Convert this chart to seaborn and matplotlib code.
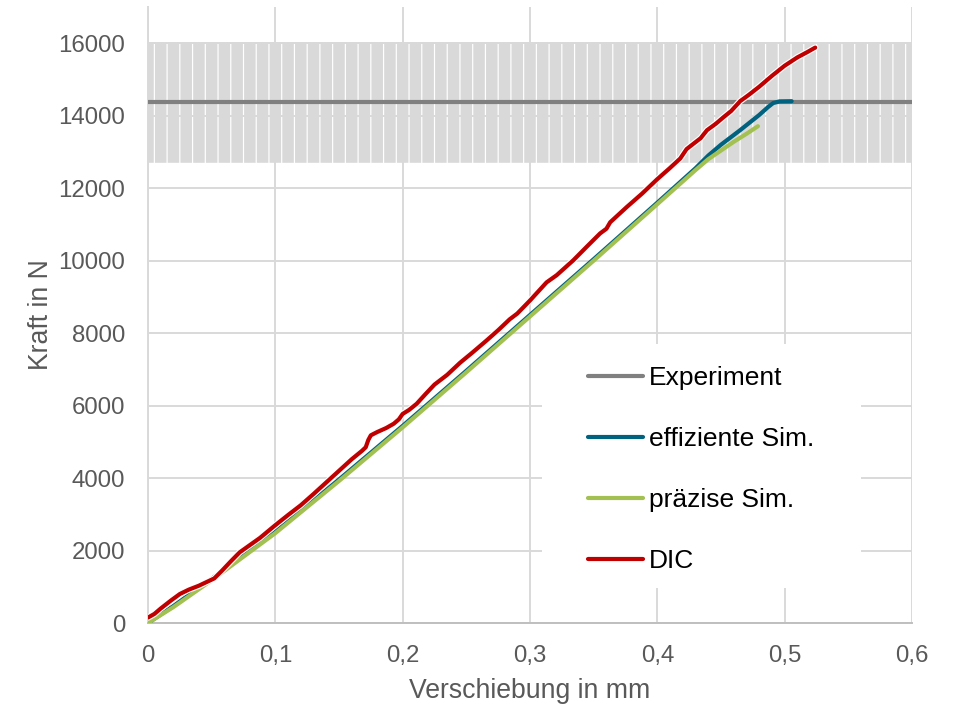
import matplotlib

matplotlib.use("Agg")
import matplotlib.patheffects as pe  # noqa: E402
import matplotlib.pyplot as plt  # noqa: E402
import pandas as pd  # noqa: E402
import seaborn as sns  # noqa: E402
from matplotlib.patches import Rectangle  # noqa: E402

# Experiment: mean force with scatter band, sampled every 0.01 mm
exp_x = [
    0.00, 0.01, 0.02, 0.03, 0.04, 0.05, 0.06, 0.07, 0.08, 0.09,
    0.10, 0.11, 0.12, 0.13, 0.14, 0.15, 0.16, 0.17, 0.18, 0.19,
    0.20, 0.21, 0.22, 0.23, 0.24, 0.25, 0.26, 0.27, 0.28, 0.29,
    0.30, 0.31, 0.32, 0.33, 0.34, 0.35, 0.36, 0.37, 0.38, 0.39,
    0.40, 0.41, 0.42, 0.43, 0.44, 0.45, 0.46, 0.47, 0.48, 0.49,
    0.50, 0.51, 0.52, 0.53, 0.54, 0.55, 0.56, 0.57, 0.58, 0.59, 0.60,
]
exp_mean = 14370
exp_err_low = 1670
exp_err_high = 1640

eff_x = [0.0, 0.02, 0.05, 0.1, 0.15, 0.2, 0.25, 0.3, 0.35, 0.4, 0.43, 0.44,
         0.45, 0.465, 0.48, 0.487, 0.491, 0.496, 0.5055]
eff_f = [0, 470, 1220, 2520, 3960, 5440, 6960, 8500, 10040, 11600, 12550, 12900,
         13200, 13600, 14020, 14240, 14350, 14395, 14400]

prec_x = [0.0, 0.02, 0.05, 0.1, 0.15, 0.2, 0.25, 0.3, 0.35, 0.4, 0.43, 0.44,
          0.45, 0.46, 0.47, 0.479]
prec_f = [0, 440, 1180, 2480, 3920, 5400, 6920, 8460, 10000, 11560, 12500, 12800,
          13040, 13280, 13500, 13710]

dic_x = [0.0, 0.005, 0.01, 0.018, 0.025, 0.032, 0.04, 0.046, 0.052, 0.058, 0.065,
         0.072, 0.078, 0.088, 0.1, 0.11, 0.12, 0.13, 0.14, 0.15, 0.16, 0.168,
         0.171, 0.173, 0.175, 0.18, 0.187, 0.193, 0.197, 0.2, 0.205, 0.211, 0.218,
         0.225, 0.235, 0.245, 0.255, 0.266, 0.275, 0.284, 0.29, 0.3, 0.313, 0.321,
         0.334, 0.345, 0.355, 0.36, 0.363, 0.376, 0.388, 0.4, 0.41, 0.418, 0.423,
         0.434, 0.439, 0.446, 0.452, 0.458, 0.465, 0.472, 0.48, 0.49, 0.5, 0.51,
         0.518, 0.524]
dic_f = [150, 250, 400, 620, 800, 920, 1030, 1130, 1230, 1440, 1700,
         1950, 2100, 2350, 2700, 2980, 3250, 3560, 3880, 4200, 4520, 4750,
         4850, 5050, 5180, 5270, 5380, 5500, 5620, 5770, 5880, 6050, 6320,
         6580, 6850, 7180, 7470, 7800, 8080, 8380, 8540, 8900, 9400, 9600,
         10010, 10400, 10750, 10880, 11060, 11480, 11850, 12250, 12560, 12820, 13080,
         13380, 13600, 13780, 13960, 14130, 14400, 14580, 14800, 15100, 15380, 15610,
         15760, 15880]

x_ticks = [0, 0.1, 0.2, 0.3, 0.4, 0.5, 0.6]
x_tick_labels = ["0", "0,1", "0,2", "0,3", "0,4", "0,5", "0,6"]
y_ticks = [0, 2000, 4000, 6000, 8000, 10000, 12000, 14000, 16000]

sns.set_theme(style="whitegrid")
plt.rcParams["font.family"] = ["Liberation Sans", "DejaVu Sans"]

GRID = "#D9D9D9"
TEXT = "#595959"

fig = plt.figure(figsize=(9.55, 7.05), dpi=100)
ax = fig.add_axes([148 / 955, 82 / 705, 764 / 955, 616 / 705])
ax.set_facecolor("white")

# scatter band of the experiment, drawn as wide error bars
eb = ax.errorbar(exp_x, [exp_mean] * len(exp_x),
                 yerr=[[exp_err_low] * len(exp_x), [exp_err_high] * len(exp_x)],
                 fmt="none", ecolor=GRID, elinewidth=8.3, capsize=0, zorder=1)
for coll in eb.lines[2]:
    coll.set_snap(False)

exp_df = pd.DataFrame({"x": exp_x, "F": [exp_mean] * len(exp_x)})
sns.lineplot(data=exp_df, x="x", y="F", color="#808080", linewidth=3.0, ax=ax,
             label="Experiment", zorder=3)
sns.lineplot(x=eff_x, y=eff_f, color="#00627F", linewidth=3.0, ax=ax,
             label="effiziente Sim.", zorder=4)
sns.lineplot(x=prec_x, y=prec_f, color="#A2C152", linewidth=3.0, ax=ax,
             label="präzise Sim.", zorder=5)
sns.lineplot(x=dic_x, y=dic_f, color="#C00000", linewidth=3.0, ax=ax,
             label="DIC", zorder=6,
             path_effects=[pe.Stroke(linewidth=4.6, foreground="white"), pe.Normal()])

ax.set_xlim(0, 0.6)
ax.set_ylim(0, 17000)
ax.set_xticks(x_ticks)
ax.set_xticklabels(x_tick_labels)
ax.set_yticks(y_ticks)
ax.set_yticklabels([str(v) for v in y_ticks])
ax.tick_params(axis="both", length=0, labelsize=17.3, labelcolor=TEXT)
ax.tick_params(axis="y", pad=16.5)
ax.tick_params(axis="x", pad=16)
ax.grid(True, color=GRID, linewidth=1.4)
ax.set_axisbelow(True)
for side in ["top", "right"]:
    ax.spines[side].set_visible(False)
ax.spines["left"].set_color(GRID)
ax.spines["left"].set_linewidth(1.4)
ax.spines["bottom"].set_color("#BFBFBF")
ax.spines["bottom"].set_linewidth(1.4)

ax.set_xlabel("Verschiebung in mm", fontsize=19.2, color=TEXT, labelpad=8)
ax.set_ylabel("Kraft in N", fontsize=19.2, color=TEXT, labelpad=3)

# white legend area covering the grid
ax.add_patch(Rectangle((0.516, 0.057), 0.417, 0.396, transform=ax.transAxes,
                       facecolor="white", edgecolor="none", zorder=2))
leg = ax.legend(loc="upper left", bbox_to_anchor=(0.576, 0.417), frameon=False,
                fontsize=19, handlelength=2.1, handletextpad=0.2,
                labelspacing=1.4, borderpad=0, borderaxespad=0)
for t in leg.get_texts():
    t.set_color("black")

fig.savefig("out.png", dpi=100)
